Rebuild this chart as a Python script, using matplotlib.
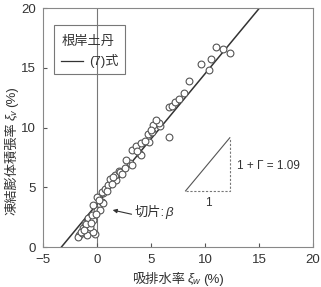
import numpy as np
import matplotlib.pyplot as plt

plt.rcParams['font.family'] = ['Liberation Sans', 'Noto Sans CJK JP', 'DejaVu Sans']
plt.rcParams['mathtext.fontset'] = 'custom'
plt.rcParams['mathtext.rm'] = 'Liberation Sans'
plt.rcParams['mathtext.it'] = 'Liberation Sans:italic'

xi_w = [-1.7, -1.8, -1.4, -0.95, -0.2, -0.34, -1.27, -0.65, -1.1, -0.8, -0.34, -0.5,
        0.0, 0.3, -0.34, 0.43, 0.55, 0.0, 0.6, 0.43, 0.74, 1.05, 1.8, 1.2, 1.7, 2.0,
        1.5, 2.1, 2.6, 3.1, 2.7, 3.2, 4.0, 4.1, 3.2, 3.6, 4.1, 4.8, 6.7, 4.7, 5.1,
        5.8, 5.2, 5.7, 5.5, 6.7, 6.9, 7.2, 7.6, 8.1, 8.5, 10.4, 9.6, 10.6, 11.0, 11.7, 12.3,
        -1.5, -1.0, -0.6, 0.2, 0.9, 1.4, 2.3, 3.7, 4.4, 5.0, -0.1, -1.2]
xi_v = [1.0, 0.86, 1.15, 1.0, 1.06, 1.3, 1.56, 1.7, 2.0, 2.4, 2.3, 2.7,
        3.1, 3.1, 3.5, 3.8, 3.7, 4.2, 4.5, 4.6, 4.9, 5.2, 5.6, 5.7, 6.0, 6.4,
        5.9, 6.3, 6.6, 7.0, 7.3, 6.9, 7.8, 7.7, 8.1, 8.5, 8.7, 8.8, 9.2, 9.5, 9.65,
        10.1, 10.2, 10.4, 10.6, 11.7, 11.8, 12.1, 12.4, 12.9, 13.9, 14.8, 15.3, 15.7, 16.7, 16.6, 16.2,
        1.3, 1.9, 2.0, 3.9, 4.7, 5.3, 6.1, 8.0, 8.9, 9.8, 2.8, 1.4]

# (7)式
slope = 1.09
beta = 3.6
line_x = np.array([-beta / slope, (20 - beta) / slope])
line_y = slope * line_x + beta

fig = plt.figure(figsize=(3.21, 2.87), dpi=100)
ax = fig.add_axes([0.134, 0.139, 0.841, 0.833])


def place_parts(parts, cx, cy, vertical=False, gap=0.004, **kw):
    # 文字列を順に並べて (cx, cy) を中心に置く（図座標）
    texts = [fig.text(0, 0, p, ha='left', va='baseline', rotation=90 if vertical else 0,
                      rotation_mode='anchor', **kw) for p in parts]
    r = fig.canvas.get_renderer()
    W, H = fig.bbox.width, fig.bbox.height
    sizes = []
    for t in texts:
        bb = t.get_window_extent(r)
        sizes.append((bb.height / H if vertical else bb.width / W) + gap)
    total = sum(sizes) - gap
    pos = (cy if vertical else cx) - total / 2
    for t, s in zip(texts, sizes):
        if vertical:
            t.set_position((cx, pos))
        else:
            t.set_position((pos, cy))
        pos += s


ax.axvline(0, color='#777777', lw=0.8, zorder=1)
ax.scatter(xi_w, xi_v, s=24, facecolors='white', edgecolors='#555555', linewidths=0.8, zorder=3)
ax.plot(line_x, line_y, color='#333333', lw=1.1, zorder=2)

# 勾配の三角形
ax.plot([8.2, 12.3], [4.7, 9.15], color='#555555', lw=0.8)
ax.plot([8.2, 12.3, 12.3], [4.7, 4.7, 9.15], color='#777777', lw=0.8, ls=(0, (2, 1.5)))
ax.text(13.0, 6.8, '1 + Γ = 1.09', fontsize=8.5, color='#333333', va='center')
ax.text(10.3, 3.7, '1', fontsize=8.5, color='#333333', ha='center', va='center')

ax.annotate('', xy=(1.45, 3.1), xytext=(3.2, 2.75),
            arrowprops=dict(arrowstyle='-|>', color='#333333', lw=0.8,
                            mutation_scale=6, shrinkA=0, shrinkB=0))
ax.text(3.5, 2.85, '切片:', fontsize=9.5, color='#333333', va='center')
ax.text(6.35, 2.85, 'β', fontsize=9.5, color='#333333', va='center', style='italic')

# 凡例
ax.text(-3.24, 17.2, '根岸土丹', fontsize=9.5, color='#333333', va='center')
ax.plot([-3.33, -1.3], [15.6, 15.6], color='#333333', lw=0.9)
ax.text(-0.74, 15.6, '(7)式', fontsize=9.5, color='#333333', va='center')
ax.add_patch(plt.Rectangle((-3.98, 14.5), 6.58, 4.1, fill=False, ec='#777777', lw=0.8))

ax.set_xlim(-5, 20)
ax.set_ylim(0, 20)
ax.set_xticks([-5, 0, 5, 10, 15, 20])
ax.set_yticks([0, 5, 10, 15, 20])
ax.tick_params(direction='in', length=3, labelsize=9.5, colors='#555555', labelcolor='#333333', pad=5)
for s in ax.spines.values():
    s.set_color('#888888')
    s.set_linewidth(0.8)

place_parts(['吸排水率', '$\\xi_w$', '(%)'], 0.555, 0.015, fontsize=9.5, color='#333333')
place_parts(['凍結膨体積張率', '$\\xi_v$', '(%)'], 0.047, 0.474, vertical=True,
            fontsize=9.5, color='#333333')

fig.savefig('out.png', dpi=100)
